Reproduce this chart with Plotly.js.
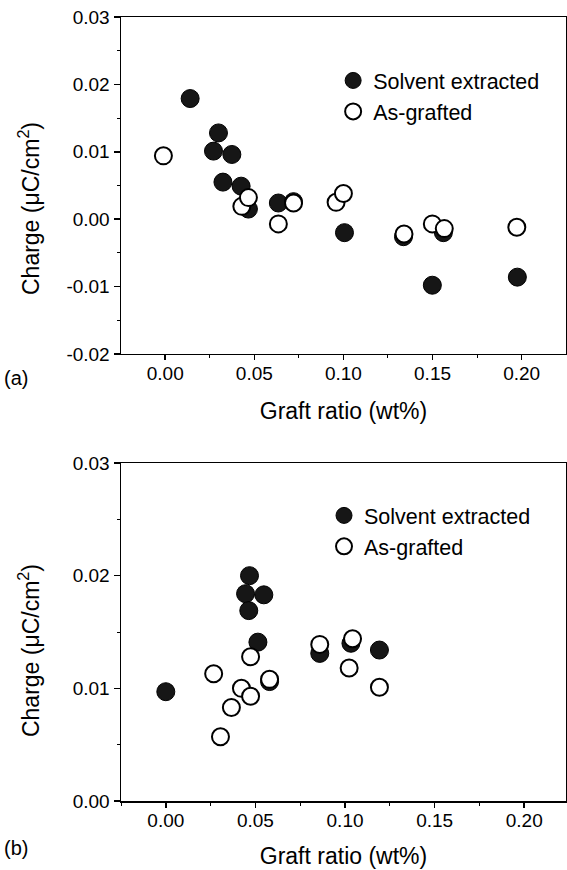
<!DOCTYPE html>
<html>
<head>
<meta charset="utf-8">
<script src="https://cdn.plot.ly/plotly-3.0.1.min.js"></script>
<style>
html,body{margin:0;padding:0;background:#fff;}
#chart{width:567px;height:870px;}
</style>
</head>
<body>
<div id="chart"></div>
<script>
// ---- Panel (a) data ----
const aSolventX = [0.0140, 0.0299, 0.0271, 0.0374, 0.0324, 0.0426, 0.0467, 0.0635, 0.0720, 0.1006, 0.1337, 0.1561, 0.1499, 0.1976];
const aSolventY = [0.0179, 0.0128, 0.0101, 0.0096, 0.0055, 0.0049, 0.0015, 0.0024, 0.0026, -0.0020, -0.0026, -0.0020, -0.0098, -0.0086];
const aGraftX = [-0.0010, 0.0430, 0.0467, 0.0635, 0.0720, 0.0959, 0.1000, 0.1340, 0.1499, 0.1566, 0.1973];
const aGraftY = [0.0094, 0.0019, 0.0032, -0.0007, 0.0024, 0.0025, 0.0038, -0.0022, -0.0007, -0.0014, -0.0012];

// ---- Panel (b) data ----
const bSolventX = [0.0000, 0.0467, 0.0445, 0.0547, 0.0463, 0.0514, 0.0859, 0.1033, 0.1192, 0.0579];
const bSolventY = [0.0097, 0.0200, 0.0184, 0.0183, 0.0169, 0.0141, 0.0131, 0.0140, 0.0134, 0.0106];
const bGraftX = [0.0267, 0.0305, 0.0366, 0.0422, 0.0473, 0.0473, 0.0579, 0.0859, 0.1042, 0.1023, 0.1192];
const bGraftY = [0.0113, 0.0057, 0.0083, 0.0100, 0.0093, 0.0128, 0.0108, 0.0139, 0.0144, 0.0118, 0.0101];

// ---- Labels / ticks ----
const seriesNames = ['Solvent extracted', 'As-grafted'];
const xTickVals = [0, 0.05, 0.10, 0.15, 0.20];
const xTickText = ['0.00', '0.05', '0.10', '0.15', '0.20'];
const aYTickVals = [-0.02, -0.01, 0, 0.01, 0.02, 0.03];
const aYTickText = ['-0.02', '-0.01', '0.00', '0.01', '0.02', '0.03'];
const bYTickVals = [0, 0.01, 0.02, 0.03];
const bYTickText = ['0.00', '0.01', '0.02', '0.03'];
const xTitle = 'Graft ratio (wt%)';
const yTitle = 'Charge (μC/cm<sup>2</sup>)';
const panelLabels = ['(a)', '(b)'];

const FONT = 'Liberation Sans, Arial, Helvetica, sans-serif';
const filledMarker = {symbol: 'circle', size: 18, color: '#161616', line: {color: '#000', width: 1}};
const openMarker = {symbol: 'circle', size: 17, color: '#ffffff', line: {color: '#000', width: 2}};

const traces = [
  {x: aSolventX, y: aSolventY, xaxis: 'x', yaxis: 'y', mode: 'markers', type: 'scatter', name: seriesNames[0], marker: filledMarker, legend: 'legend'},
  {x: aGraftX, y: aGraftY, xaxis: 'x', yaxis: 'y', mode: 'markers', type: 'scatter', name: seriesNames[1], marker: openMarker, legend: 'legend'},
  {x: bSolventX, y: bSolventY, xaxis: 'x2', yaxis: 'y2', mode: 'markers', type: 'scatter', name: seriesNames[0], marker: filledMarker, legend: 'legend2'},
  {x: bGraftX, y: bGraftY, xaxis: 'x2', yaxis: 'y2', mode: 'markers', type: 'scatter', name: seriesNames[1], marker: openMarker, legend: 'legend2'}
];

function xAxis(range, anchor, standoff) {
  return {
    domain: [0, 1], anchor: anchor, range: range,
    tickmode: 'array', tickvals: xTickVals, ticktext: xTickText,
    ticks: 'outside', ticklen: 5, tickwidth: 1.5, tickcolor: '#000',
    ticklabelstandoff: -3,
    showline: true, linewidth: 1.5, linecolor: '#000', mirror: true,
    showgrid: false, zeroline: false,
    tickfont: {family: FONT, size: 19, color: '#000'},
    minor: {ticks: 'outside', ticklen: 3, tickwidth: 1, tickcolor: '#000', tick0: 0, dtick: 0.025, showgrid: false},
    title: {text: xTitle, font: {family: FONT, size: 23, color: '#000'}, standoff: standoff}
  };
}
function yAxis(domain, range, vals, text, anchor) {
  return {
    domain: domain, anchor: anchor, range: range,
    tickmode: 'array', tickvals: vals, ticktext: text,
    ticks: 'outside', ticklen: 6, tickwidth: 1.5, tickcolor: '#000',
    showline: true, linewidth: 1.5, linecolor: '#000', mirror: true,
    showgrid: false, zeroline: false,
    tickfont: {family: FONT, size: 19, color: '#000'},
    minor: {ticks: 'outside', ticklen: 3, tickwidth: 1, tickcolor: '#000', tick0: 0, dtick: 0.005, showgrid: false}
  };
}

const legendStyle = {
  font: {family: FONT, size: 21.5, color: '#000'},
  bgcolor: 'rgba(0,0,0,0)', borderwidth: 0,
  xanchor: 'left', yanchor: 'top', tracegroupgap: 0, itemsizing: 'trace'
};

const layout = {
  width: 567, height: 870,
  margin: {l: 121, r: 1, t: 17, b: 69},
  paper_bgcolor: '#fff', plot_bgcolor: '#fff',
  font: {family: FONT, color: '#000'},
  showlegend: true,
  xaxis: xAxis([-0.0248, 0.2249], 'y', 19),
  yaxis: yAxis([0.5702, 1], [-0.02, 0.03], aYTickVals, aYTickText, 'x'),
  xaxis2: xAxis([-0.025, 0.2233], 'y2', 17),
  yaxis2: yAxis([0, 0.4311], [0, 0.03], bYTickVals, bYTickText, 'x2'),
  legend: Object.assign({x: 0.4767, y: 0.9452}, legendStyle),
  legend2: Object.assign({x: 0.4562, y: 0.3904}, legendStyle),
  annotations: [
    {text: yTitle, xref: 'paper', yref: 'paper', x: -0.2067, y: 0.7551, xanchor: 'center', yanchor: 'middle', textangle: -90, showarrow: false, font: {family: FONT, size: 23, color: '#000'}},
    {text: yTitle, xref: 'paper', yref: 'paper', x: -0.2067, y: 0.1913, xanchor: 'center', yanchor: 'middle', textangle: -90, showarrow: false, font: {family: FONT, size: 23, color: '#000'}},
    {text: panelLabels[0], xref: 'paper', yref: 'paper', x: -0.2360, y: 0.5395, xanchor: 'center', yanchor: 'middle', showarrow: false, font: {family: FONT, size: 20, color: '#000'}},
    {text: panelLabels[1], xref: 'paper', yref: 'paper', x: -0.2360, y: -0.0599, xanchor: 'center', yanchor: 'middle', showarrow: false, font: {family: FONT, size: 20, color: '#000'}}
  ]
};

Plotly.newPlot('chart', traces, layout, {staticPlot: true, displayModeBar: false});
</script>
</body>
</html>
